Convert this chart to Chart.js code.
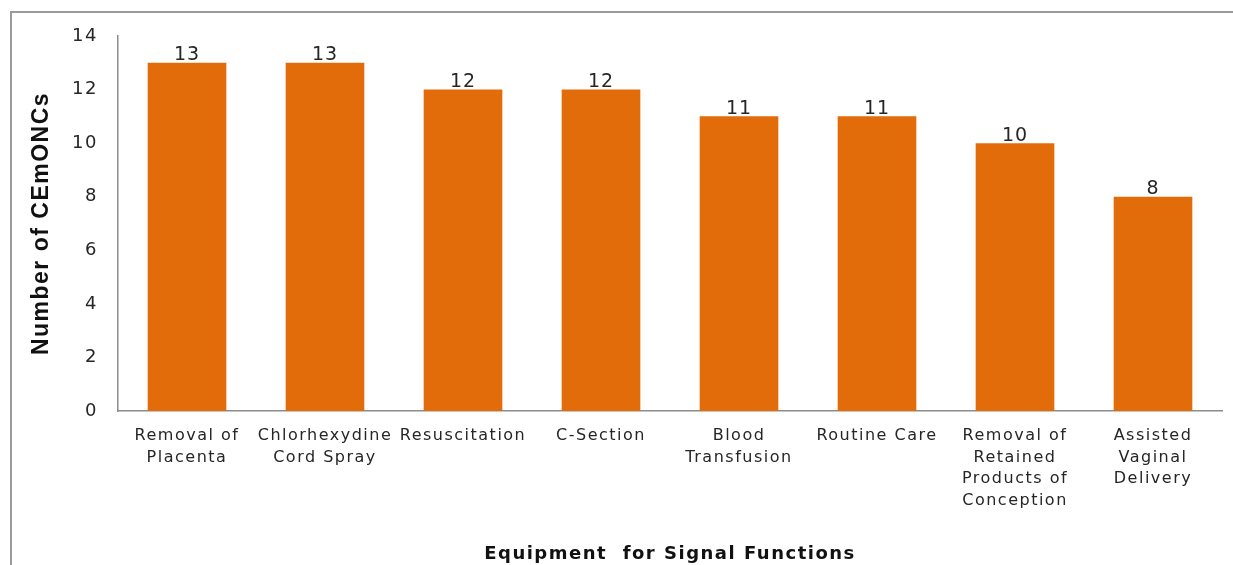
<!DOCTYPE html>
<html>
<head>
<meta charset="utf-8">
<script src="https://cdn.jsdelivr.net/npm/chart.js@4"></script>
<style>
  html, body { margin: 0; background: #fff; overflow: hidden; }
</style>
</head>
<body>
<canvas id="bar-chart" width="1233" height="565"></canvas>
<script>
const categories = [
    ['Removal of', 'Placenta'],
    ['Chlorhexydine', 'Cord Spray'],
    ['Resuscitation'],
    ['C-Section'],
    ['Blood', 'Transfusion'],
    ['Routine Care'],
    ['Removal of', 'Retained', 'Products of', 'Conception'],
    ['Assisted', 'Vaginal', 'Delivery']
];
const counts = [13, 13, 12, 12, 11, 11, 10, 8];
const yTicks = [0, 2, 4, 6, 8, 10, 12, 14];

// canvas letter spacing, the original text is a bit wide
const spacing = {
    id: 'spacing',
    beforeLayout: (chart) => { chart.ctx.letterSpacing = '1.5px'; },
    beforeDraw: (chart) => { chart.ctx.letterSpacing = '1.5px'; }
};

// grey frame on top and left like the cropped original
const frame = {
    id: 'frame',
    beforeDraw: (chart) => {
        const ctx = chart.ctx;
        ctx.save();
        ctx.strokeStyle = '#9a9a9a';
        ctx.lineWidth = 2;
        ctx.beginPath();
        ctx.moveTo(11, chart.height);
        ctx.lineTo(11, 12);
        ctx.lineTo(chart.width, 12);
        ctx.stroke();
        ctx.restore();
    }
};

// value above each bar
const valueLabels = {
    id: 'valueLabels',
    afterDatasetsDraw: (chart) => {
        const ctx = chart.ctx;
        const meta = chart.getDatasetMeta(0);
        ctx.save();
        ctx.letterSpacing = '1px';
        ctx.font = '19px "DejaVu Sans"';
        ctx.fillStyle = '#262626';
        ctx.textAlign = 'center';
        ctx.textBaseline = 'bottom';
        meta.data.forEach((bar, i) => {
            ctx.fillText(counts[i], bar.x, bar.y + 2);
        });
        ctx.restore();
    }
};

new Chart(document.getElementById('bar-chart'), {
    type: 'bar',
    data: {
        labels: categories,
        datasets: [{
            label: 'CEmONCs',
            data: counts,
            backgroundColor: '#E36C0A',
            categoryPercentage: 1,
            barPercentage: 0.57
        }]
    },
    options: {
        responsive: false,
        animation: false,
        layout: { padding: { left: 0, right: 11, top: 36, bottom: 0 } },
        plugins: {
            legend: { display: false },
            tooltip: { enabled: false }
        },
        scales: {
            x: {
                grid: { display: false, drawTicks: false },
                border: { display: true, color: '#8c8c8c', width: 1.5 },
                ticks: {
                    autoSkip: false,
                    maxRotation: 0,
                    padding: 14,
                    color: '#262626',
                    font: { family: 'DejaVu Sans', size: 16, lineHeight: 1.35 }
                },
                title: {
                    display: true,
                    text: 'Equipment  for Signal Functions',
                    color: '#111',
                    font: { family: 'DejaVu Sans', size: 18, weight: 'bold' },
                    padding: { top: 0, bottom: 0 }
                },
                afterFit: (scale) => { scale.height = 154; }
            },
            y: {
                min: 0,
                max: 14,
                afterBuildTicks: (scale) => { scale.ticks = yTicks.map(v => ({ value: v })); },
                grid: { display: false, drawTicks: false },
                border: { display: true, color: '#8c8c8c', width: 1.5 },
                ticks: {
                    padding: 20,
                    color: '#262626',
                    font: { family: 'DejaVu Sans', size: 18 }
                },
                title: {
                    display: true,
                    text: 'Number of CEmONCs',
                    color: '#111',
                    font: { family: 'Liberation Sans', size: 23, weight: 'bold' },
                    padding: { top: 28, bottom: 0 }
                },
                afterFit: (scale) => { scale.width = 118; }
            }
        }
    },
    plugins: [frame, spacing, valueLabels]
});
</script>
</body>
</html>
